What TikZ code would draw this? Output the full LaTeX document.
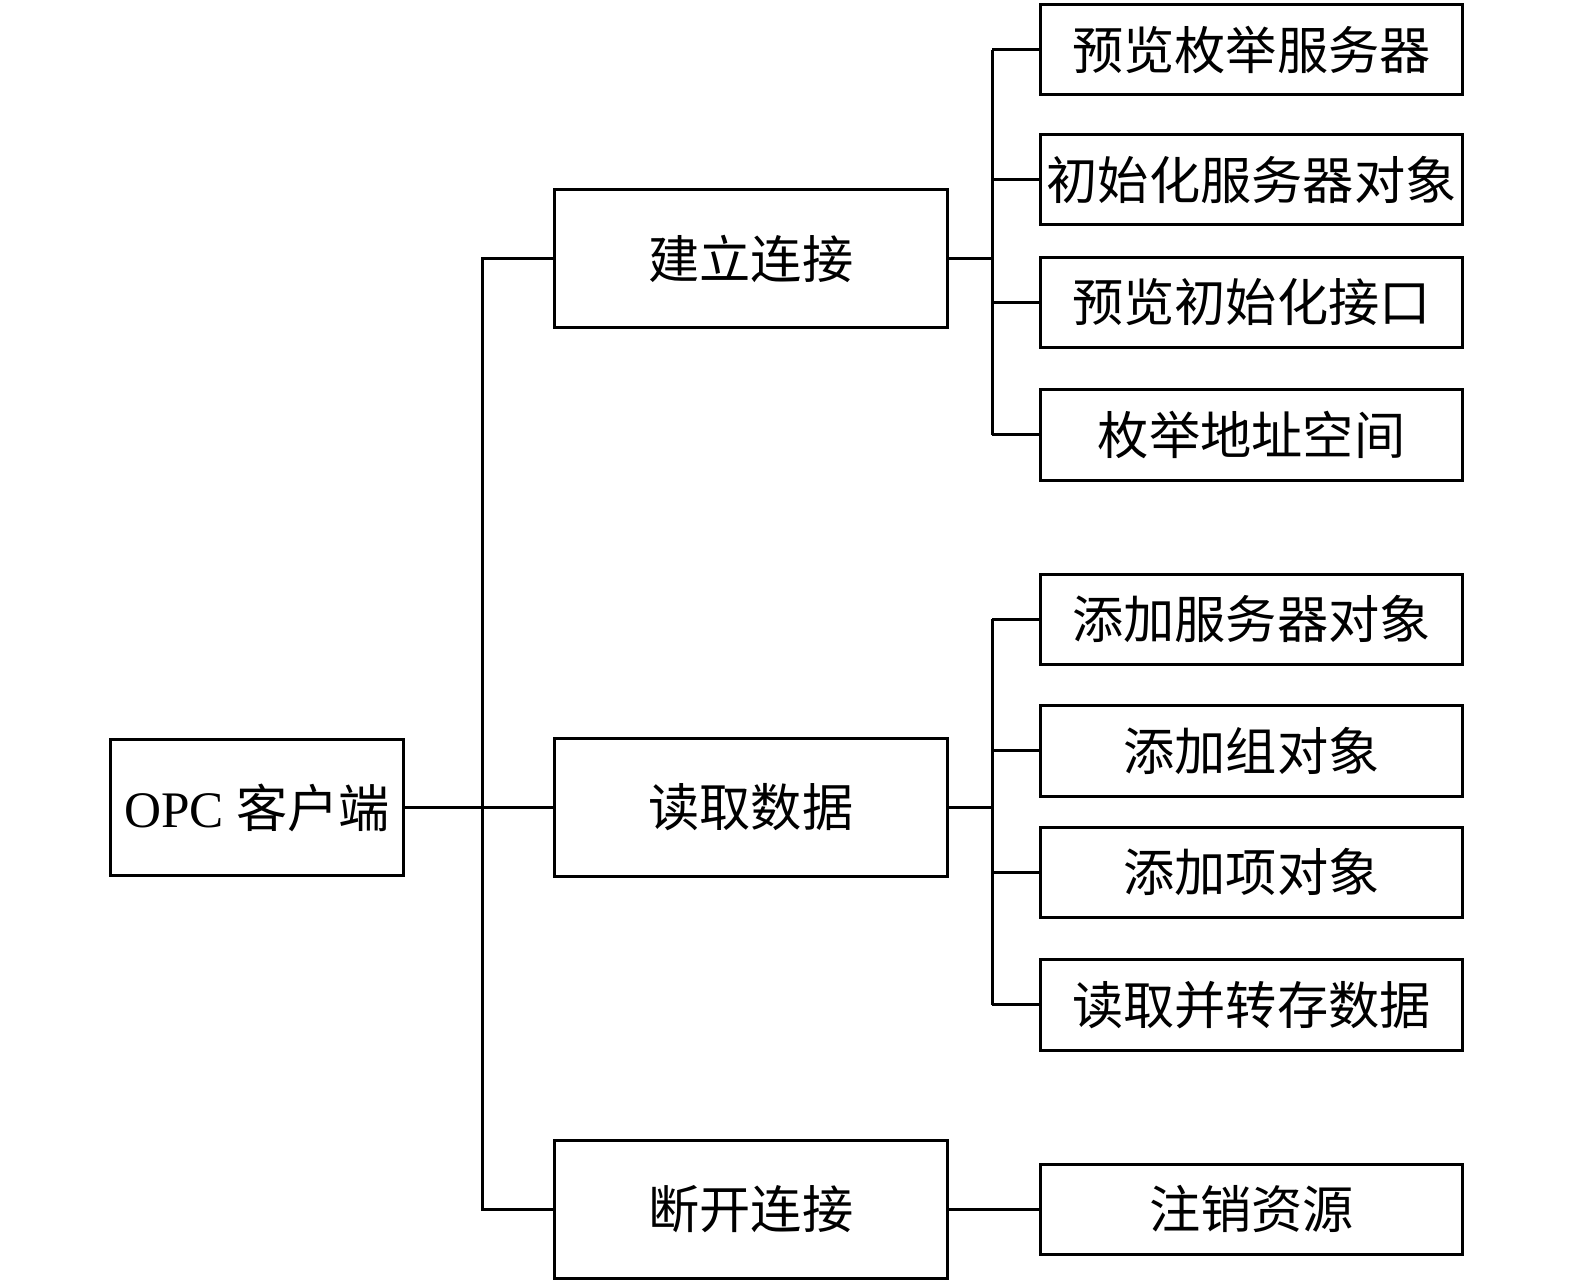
\documentclass[tikz,border=0pt]{standalone}
\usepackage{fontspec}
\setmainfont{Liberation Serif}
\newfontfamily\cjk{Noto Sans CJK SC}
\usetikzlibrary{calc}
\tikzset{
  box/.style={draw,line width=1.5pt,inner sep=0pt,font=\fontsize{25.5}{30}\selectfont},
  rootbox/.style={box,minimum width=146pt,minimum height=68pt},
  midbox/.style={box,minimum width=195.5pt,minimum height=68.5pt},
  leafbox/.style={box,minimum width=210pt,minimum height=45pt},
  link/.style={line width=1.5pt}
}
\begin{document}
\begin{tikzpicture}[x=0.5pt,y=-0.5pt]

    % Define the columns of the tree
    \def\xroot{256}     % centre of the client box
    \def\xmid{747.5}    % centre of the three steps
    \def\xleaf{1246}    % centre of the sub-steps
    \useasboundingbox (0,0) rectangle (1568,1277);

    % -- Root --
    \node[rootbox] (client) at (\xroot,804) {OPC {\cjk 客户端}};

    % -- Three steps --
    \node[midbox] (connect) at (\xmid,257.5) {\cjk 建立连接};
    \node[midbox] (read)    at (\xmid,804)   {\cjk 读取数据};
    \node[midbox] (close)   at (\xmid,1204)  {\cjk 断开连接};

    % -- Sub-steps of each step --
    \node[leafbox] (enum)     at (\xleaf,49.5)  {\cjk 预览枚举服务器};
    \node[leafbox] (initsrv)  at (\xleaf,179)   {\cjk 初始化服务器对象};
    \node[leafbox] (initif)   at (\xleaf,301)   {\cjk 预览初始化接口};
    \node[leafbox] (browse)   at (\xleaf,433)   {\cjk 枚举地址空间};

    \node[leafbox] (addsrv)   at (\xleaf,616.5) {\cjk 添加服务器对象};
    \node[leafbox] (addgroup) at (\xleaf,747.5) {\cjk 添加组对象};
    \node[leafbox] (additem)  at (\xleaf,868.5) {\cjk 添加项对象};
    \node[leafbox] (store)    at (\xleaf,1000.5){\cjk 读取并转存数据};

    \node[leafbox] (release)  at (\xleaf,1204)  {\cjk 注销资源};

    % -- Trunk and branch columns --
    \coordinate (trunk)  at (480,0);
    \coordinate (branch) at (988,0);

    % -- Root to steps --
    \draw[link] (client.east) -- (read.west);
    \draw[link] (connect.west) -- (connect.west -| trunk) -- (close.west -| trunk) -- (close.west);

    % -- Steps to sub-steps --
    \draw[link] (connect.east) -- (connect.east -| branch);
    \draw[link] (enum.west -| branch) -- (browse.west -| branch);
    \foreach \leaf in {enum,initsrv,initif,browse}
      \draw[link] (\leaf.west -| branch) -- (\leaf.west);

    \draw[link] (read.east) -- (read.east -| branch);
    \draw[link] (addsrv.west -| branch) -- (store.west -| branch);
    \foreach \leaf in {addsrv,addgroup,additem,store}
      \draw[link] (\leaf.west -| branch) -- (\leaf.west);

    \draw[link] (close.east) -- (release.west);

\end{tikzpicture}
\end{document}
